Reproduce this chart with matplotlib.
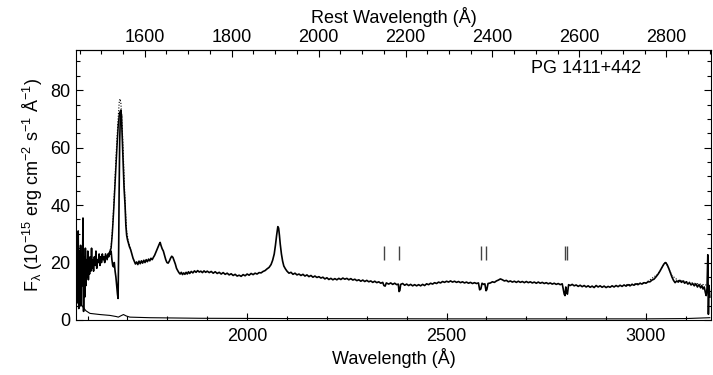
import matplotlib
matplotlib.use("Agg")
import matplotlib.pyplot as plt
from matplotlib.ticker import MultipleLocator, FixedLocator

plt.rcParams['font.family'] = ['Liberation Sans', 'DejaVu Sans']
plt.rcParams['font.size'] = 13
plt.rcParams['mathtext.fontset'] = 'custom'
plt.rcParams['mathtext.rm'] = 'Liberation Sans'
plt.rcParams['mathtext.it'] = 'Liberation Sans'
plt.rcParams['axes.unicode_minus'] = False

# ---------------- data ----------------
z_factor = 1.0896  # observed / rest wavelength

obs_wave = [1571, 1572, 1574, 1575, 1576.5, 1578, 1579.5, 1581, 1582.5, 1584, 1585.5, 1587, 1588.5, 1590,
            1591.5, 1593, 1594.5, 1596, 1597.5, 1599, 1600.5, 1602, 1603.5, 1605, 1606.5, 1608, 1610, 1611.5,
            1613, 1615, 1617, 1619, 1621, 1623, 1625, 1627, 1629, 1631, 1633, 1635, 1637, 1639, 1641, 1643,
            1645, 1647, 1649, 1651, 1653, 1655, 1657, 1659, 1661, 1663, 1665, 1667, 1669, 1671, 1673, 1675,
            1676.5, 1678, 1679, 1680.5, 1682, 1683.5, 1685, 1687, 1689, 1691.5, 1694, 1696, 1698, 1700, 1702,
            1705, 1708, 1711, 1714, 1717, 1720, 1723, 1726, 1729, 1732, 1735, 1738, 1741, 1744, 1747, 1750,
            1753, 1756, 1759, 1762, 1765, 1768, 1771, 1774, 1777, 1780, 1782, 1784, 1787, 1790, 1793, 1796,
            1799, 1802, 1805, 1808, 1811, 1814, 1817, 1820, 1823, 1826, 1829, 1832, 1835, 1838, 1841, 1844,
            1847, 1850, 1853, 1856, 1860, 1864, 1868, 1872, 1876, 1880, 1884, 1888, 1892, 1896, 1900, 1905,
            1910, 1915, 1920, 1925, 1930, 1935, 1940, 1945, 1950, 1955, 1960, 1965, 1970, 1975, 1980, 1985,
            1990, 1995, 2000, 2005, 2010, 2015, 2020, 2025, 2030, 2035, 2040, 2045, 2050, 2055, 2060, 2064,
            2068, 2071, 2074, 2077, 2079, 2081, 2083, 2086, 2089, 2092, 2096, 2100, 2105, 2110, 2115, 2120,
            2125, 2130, 2135, 2140, 2145, 2150, 2155, 2160, 2165, 2170, 2175, 2180, 2185, 2190, 2195, 2200,
            2205, 2210, 2215, 2220, 2225, 2230, 2235, 2240, 2245, 2250, 2255, 2260, 2265, 2270, 2275, 2280,
            2285, 2290, 2295, 2300, 2305, 2310, 2315, 2320, 2325, 2330, 2335, 2340, 2343, 2346, 2349, 2355,
            2360, 2365, 2370, 2375, 2379, 2381, 2383, 2385, 2390, 2395, 2400, 2405, 2410, 2415, 2420, 2425,
            2430, 2435, 2440, 2445, 2450, 2455, 2460, 2465, 2470, 2475, 2480, 2485, 2490, 2495, 2500, 2505,
            2510, 2515, 2520, 2525, 2530, 2535, 2540, 2545, 2550, 2555, 2560, 2565, 2570, 2575, 2580, 2583,
            2586, 2589, 2593, 2596, 2599, 2601, 2604, 2610, 2615, 2620, 2625, 2630, 2635, 2640, 2645, 2650,
            2655, 2660, 2665, 2670, 2675, 2680, 2685, 2690, 2695, 2700, 2705, 2710, 2715, 2720, 2725, 2730,
            2735, 2740, 2745, 2750, 2755, 2760, 2765, 2770, 2775, 2780, 2785, 2790, 2795, 2797, 2799, 2801,
            2803, 2806, 2810, 2815, 2820, 2825, 2830, 2835, 2840, 2845, 2850, 2855, 2860, 2865, 2870, 2875,
            2880, 2885, 2890, 2895, 2900, 2905, 2910, 2915, 2920, 2925, 2930, 2935, 2940, 2945, 2950, 2955,
            2960, 2965, 2970, 2975, 2980, 2985, 2990, 2995, 3000, 3005, 3010, 3015, 3020, 3025, 3030, 3035,
            3040, 3045, 3049, 3053, 3057, 3061, 3065, 3069, 3073, 3077, 3081, 3085, 3089, 3093, 3097, 3101,
            3105, 3109, 3113, 3117, 3121, 3125, 3129, 3133, 3137, 3140, 3143, 3146, 3149, 3151, 3153, 3155,
            3156.5, 3158, 3160]
obs_flux = [2, 10, 22, 6, 31, 4, 24, 9, 26, 5, 20, 12, 35.5, 3,
            22, 8, 25, 12, 21, 15, 24, 14, 19, 16, 22, 17, 25, 18,
            21, 17, 22, 19, 24, 18, 21, 20, 23, 19, 22, 20, 23, 21, 22, 20,
            23, 22, 21, 23, 22, 23.5, 23, 24, 21, 19, 18.5, 20, 17, 15, 12, 9,
            7.5, 25, 43, 62, 70, 73, 71, 63, 55, 46, 40, 33, 29.5, 28, 27,
            25.5, 24.5, 23, 21.5, 20.5, 19.5, 20.2, 19.3, 20.5, 19.6, 20.6, 19.8, 20.8, 20.0, 21, 20.3,
            21.2, 20.6, 21.5, 21, 21.8, 22.5, 23.5, 24.5, 25.5, 26.5, 27, 26, 24.8, 24, 22.5, 21,
            20, 19.8, 20.5, 21.5, 22.2, 21.8, 20.6, 19.5, 18, 17.2, 16.5, 16.0, 16.6, 15.8, 16.4, 15.9,
            16.6, 16.0, 16.8, 16.2, 16.9, 16.4, 17.1, 16.6, 17.2, 16.7, 17.0, 16.5, 17.1, 16.6, 17.0, 16.5,
            16.9, 16.3, 16.8, 16.2, 16.6, 16.0, 16.5, 15.9, 16.3, 15.7, 16.1, 15.5, 15.9, 15.3, 15.6, 15.2,
            15.8, 15.4, 16.0, 15.6, 16.2, 15.8, 16.3, 16.0, 16.5, 16.4, 16.9, 17.2, 17.8, 18.3, 19.3, 20.8,
            23, 26, 29.5, 32.5, 32, 29.5, 26.5, 23, 20.5, 18.8, 17.8, 17.0, 16.3, 16.6, 15.9, 16.3,
            15.7, 16.0, 15.5, 15.9, 15.3, 15.7, 15.1, 15.5, 14.9, 15.3, 14.8, 15.1, 14.6, 14.9, 14.3, 14.7,
            14.1, 14.5, 14.0, 14.4, 14.0, 14.5, 14.1, 14.6, 14.2, 14.5, 14.0, 14.4, 13.9, 14.2, 13.7, 14.0,
            13.5, 13.9, 13.4, 13.8, 13.3, 13.6, 13.1, 13.5, 13.0, 13.3, 12.8, 13.1, 12.0, 11.8, 12.9, 12.5,
            12.9, 12.4, 12.8, 12.3, 12.5, 9.9, 10.3, 12.4, 12.7, 12.1, 12.5, 12.0, 12.4, 11.9, 12.3, 11.9,
            12.3, 11.9, 12.4, 12.0, 12.6, 12.3, 12.8, 12.5, 13.0, 12.7, 13.2, 12.9, 13.4, 13.1, 13.5, 13.2,
            13.6, 13.2, 13.5, 13.1, 13.4, 13.0, 13.3, 12.9, 13.2, 12.8, 13.1, 12.7, 13.0, 12.7, 12.9, 10.5,
            10.8, 12.8, 12.4, 12.6, 10.2, 10.6, 12.7, 12.9, 13.3, 13.1, 13.6, 13.9, 14.3, 14.0, 13.6, 13.8,
            13.3, 13.6, 13.2, 13.5, 13.1, 13.5, 13.1, 13.4, 13.0, 13.4, 13.0, 13.3, 12.9, 13.2, 12.8, 13.2,
            12.8, 13.1, 12.7, 13.0, 12.6, 12.9, 12.5, 12.8, 12.4, 12.7, 12.3, 12.6, 9.0, 8.5, 11.5, 9.5,
            9.0, 12.3, 12.0, 12.4, 11.9, 12.2, 11.7, 12.1, 11.6, 12.0, 11.5, 11.9, 11.4, 11.8, 11.3, 12.0,
            11.5, 11.9, 11.4, 11.8, 11.3, 11.7, 11.4, 11.9, 11.5, 12.0, 11.6, 12.1, 11.7, 12.2, 11.8, 12.3,
            11.9, 12.4, 12.1, 12.6, 12.3, 12.8, 12.5, 13.0, 12.8, 13.3, 13.3, 13.9, 14.2, 15.0, 15.9, 17.0,
            18.3, 19.5, 20.0, 19.3, 18.0, 16.5, 15.0, 13.8, 13.0, 13.6, 13.2, 13.8, 13.1, 13.6, 12.8, 13.3,
            12.5, 13.0, 12.2, 12.7, 11.9, 12.6, 11.5, 12.3, 11.2, 12.0, 10.8, 11.5, 9.5, 8.5, 11, 22.7,
            2, 12, 8]

# smooth fit over the C IV blue wing (solid)
fit_wave = [1655, 1659, 1662, 1665, 1668, 1671, 1674, 1677, 1680, 1683, 1685]
fit_flux = [23.5, 25, 30, 37, 45, 53, 61, 68, 72, 73, 71]

# unabsorbed model (dotted)
mod_wave = [1655, 1659, 1662, 1665, 1668, 1671, 1674, 1677, 1679.5, 1681.5, 1683.5, 1686, 1689, 1692,
            1695, 1698, 1702, 1708]
mod_flux = [23.5, 25.5, 31, 38.5, 47, 56, 64, 71, 76, 77, 75.5, 70, 60, 48, 38, 31, 27.5, 24.5]
mod2_wave = [2950, 3000, 3030, 3049, 3065, 3080, 3100, 3120, 3140, 3160]
mod2_flux = [12.2, 13.0, 16.0, 20.3, 15.5, 13.8, 13.4, 12.8, 12.4, 12.0]

# error spectrum
err_wave = [1571, 1576, 1581, 1588, 1596, 1606, 1631, 1656, 1672, 1677, 1684, 1690, 1697, 1706, 1756,
            1882, 2100, 2500, 3000, 3100, 3160]
err_flux = [14, 8, 6, 4.6, 3.2, 2.3, 1.9, 1.6, 1.2, 1.0, 1.5, 1.9, 1.4, 1.0, 0.8,
            0.6, 0.5, 0.4, 0.4, 0.5, 0.8]

# Galactic absorption line markers (observed wavelength)
abs_lines = [2344, 2382, 2587, 2600, 2796, 2803]
abs_lo, abs_hi = 21.0, 25.6

bottom_ticks = [2000, 2500, 3000]
top_ticks = [1600, 1800, 2000, 2200, 2400, 2600, 2800]
y_ticks = [0, 20, 40, 60, 80]

# ---------------- figure ----------------
W, H = 713, 375
fig = plt.figure(figsize=(W / 100, H / 100), dpi=100)
ax = fig.add_axes([76 / W, 1 - 320 / H, (711 - 76) / W, (320 - 50) / H])

ax.plot(obs_wave, obs_flux, color='black', lw=1.2)
ax.plot(fit_wave, fit_flux, color='black', lw=1.1)
ax.plot(mod_wave, mod_flux, color='black', lw=0.8, ls=(0, (1, 1.5)))
ax.plot(mod2_wave, mod2_flux, color='black', lw=0.8, ls=(0, (1, 1.5)))
ax.plot(err_wave, err_flux, color='black', lw=0.8)
ax.vlines(abs_lines, abs_lo, abs_hi, color='#444444', lw=1.0)

ax.set_xlim(1571, 3163)
ax.set_ylim(0, 94)

ax.xaxis.set_major_locator(FixedLocator(bottom_ticks))
ax.xaxis.set_minor_locator(MultipleLocator(100))
ax.yaxis.set_major_locator(FixedLocator(y_ticks))
ax.yaxis.set_minor_locator(MultipleLocator(5))
ax.tick_params(which='both', direction='in', top=False, right=True, width=0.8, labelsize=13)
ax.tick_params(which='major', length=5)
ax.tick_params(which='minor', length=3)
ax.tick_params(axis='x', pad=6)
ax.tick_params(axis='y', pad=4)
for sp in ax.spines.values():
    sp.set_linewidth(0.8)

sec = ax.secondary_xaxis('top', functions=(lambda x: x / z_factor, lambda x: x * z_factor))
sec.xaxis.set_major_locator(FixedLocator(top_ticks))
sec.xaxis.set_minor_locator(MultipleLocator(50))
sec.tick_params(which='both', direction='in', width=0.8, labelsize=13, pad=3)
sec.tick_params(which='major', length=5)
sec.tick_params(which='minor', length=3)

ax.text(0.803, 0.93, 'PG 1411+442', transform=ax.transAxes, ha='center', va='center', fontsize=13)

fig.text(393.5 / W, 1 - 358 / H, 'Wavelength (Å)', ha='center', va='center', fontsize=13)
fig.text(393.5 / W, 1 - 17 / H, 'Rest Wavelength (Å)', ha='center', va='center', fontsize=13)
fig.text(33 / W, 1 - 185 / H,
         r'F$_\mathregular{λ}$ (10$^\mathregular{-15}$ erg cm$^\mathregular{-2}$ s$^\mathregular{-1}$ Å$^\mathregular{-1}$)',
         ha='center', va='center', rotation=90, fontsize=13)

fig.savefig('out.png', dpi=100)
